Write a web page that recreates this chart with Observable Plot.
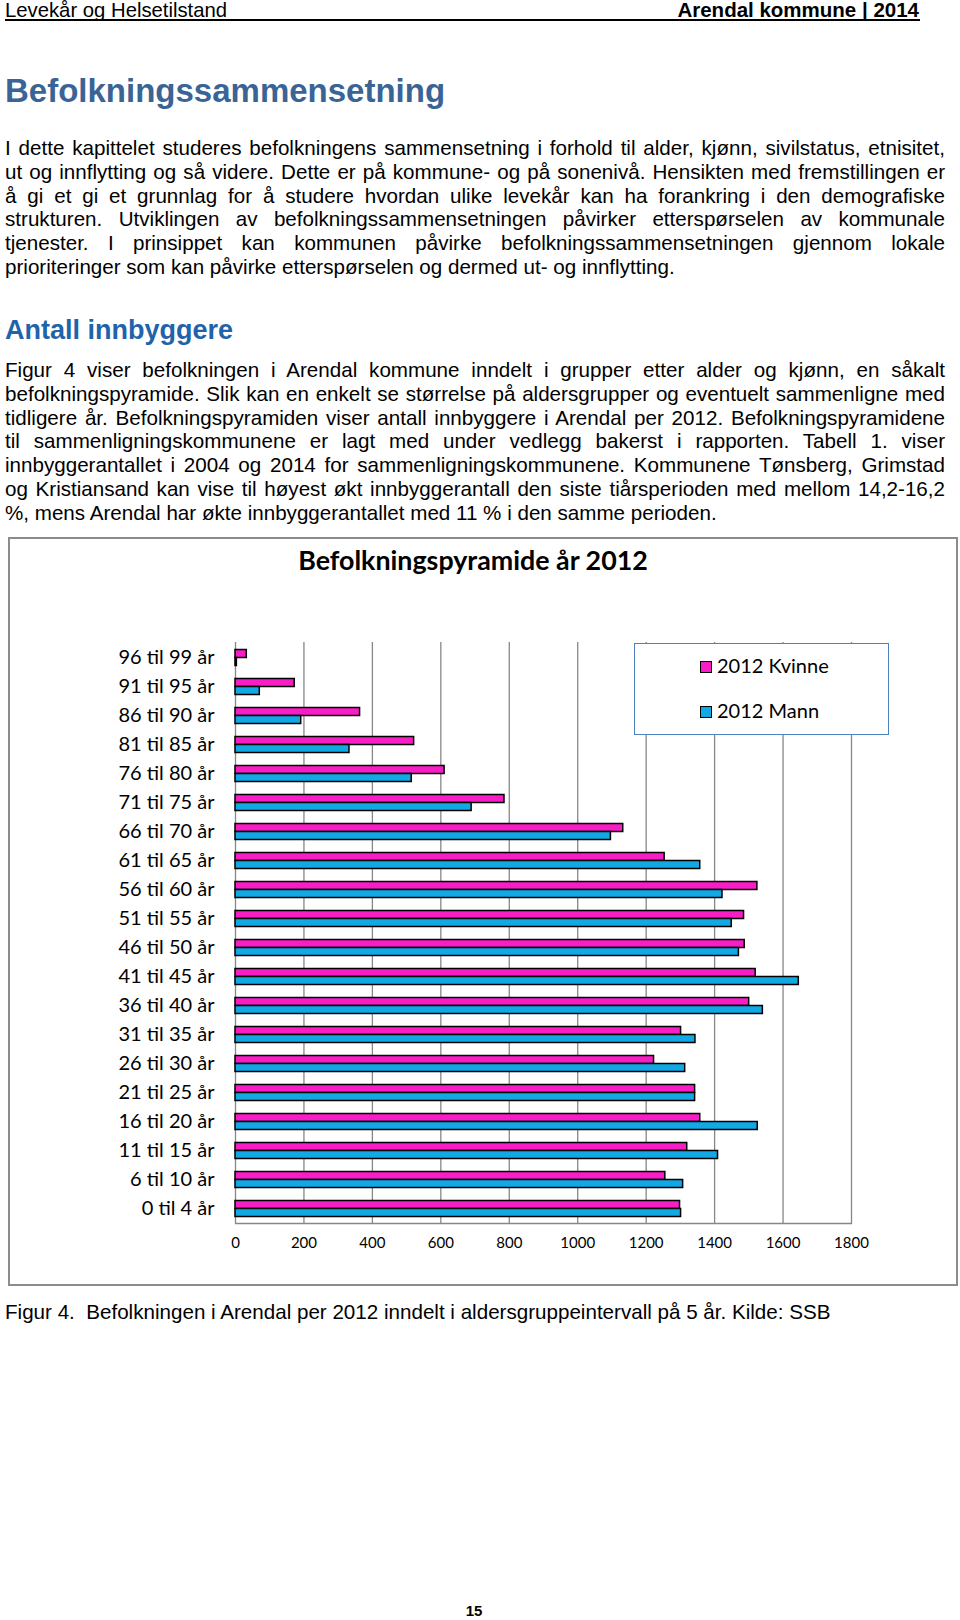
<!DOCTYPE html>
<html>
<head>
<meta charset="utf-8">
<script src="https://cdn.jsdelivr.net/npm/d3@7"></script>
<script src="https://cdn.jsdelivr.net/npm/@observablehq/plot@0.6"></script>
<style>
  html, body { margin: 0; padding: 0; }
  body { width: 960px; height: 1620px; position: relative; background: #fff; overflow: hidden;
         font-family: "Liberation Sans", Arial, Helvetica, sans-serif; color: #000; }
  .abs { position: absolute; }
  .para { left: 5px; width: 940px; font-size: 20.6px; line-height: 23.77px; }
  .para div { text-align: justify; text-align-last: justify; height: 23.77px; overflow: visible; }
  .para div.last { text-align-last: left; }
  #frame { left: 8px; top: 537px; width: 950px; height: 749px; box-sizing: border-box; border: 2px solid #8c8c8c; }
  #ctitle { left: 0px; width: 946px; top: 540px; height: 40px; line-height: 40px; text-align: center;
            font-family: Lato, "Open Sans", sans-serif; font-weight: bold; font-size: 26.8px; }
  #chart { left: 10px; top: 590px; }
  #legend { left: 634px; top: 643px; width: 255px; height: 92px; box-sizing: border-box;
            border: 1.5px solid #4f81bd; background: #fff; font-family: Lato, sans-serif; font-size: 20px; }
  .li { position: absolute; left: 65px; height: 24px; line-height: 24px; white-space: nowrap; }
  .sw { display: inline-block; width: 12px; height: 12px; box-sizing: border-box; border: 1.5px solid #000;
        vertical-align: middle; margin-right: 5px; position: relative; top: -1px; }
</style>
</head>
<body>

<div class="abs" style="left:5px;top:-2px;font-size:20.3px;line-height:24px;">Levekår og Helsetilstand</div>
<div class="abs" style="right:41px;top:-2px;font-size:20.5px;line-height:24px;font-weight:bold;">Arendal kommune | 2014</div>
<div class="abs" style="left:5px;top:19px;width:915px;height:2px;background:#000;"></div>

<div class="abs" style="left:5px;top:71px;font-size:33px;line-height:40px;font-weight:bold;color:#3a6496;">Befolkningssammensetning</div>

<div class="abs para" style="top:136px;">
  <div>I dette kapittelet studeres befolkningens sammensetning i forhold til alder, kjønn, sivilstatus, etnisitet,</div>
  <div>ut og innflytting og så videre. Dette er på kommune- og på sonenivå. Hensikten med fremstillingen er</div>
  <div>å gi et gi et grunnlag for å studere hvordan ulike levekår kan ha forankring i den demografiske</div>
  <div>strukturen. Utviklingen av befolkningssammensetningen påvirker etterspørselen av kommunale</div>
  <div>tjenester. I prinsippet kan kommunen påvirke befolkningssammensetningen gjennom lokale</div>
  <div class="last">prioriteringer som kan påvirke etterspørselen og dermed ut- og innflytting.</div>
</div>

<div class="abs" style="left:5px;top:314px;font-size:27px;line-height:32px;font-weight:bold;color:#1f63ab;">Antall innbyggere</div>

<div class="abs para" style="top:358px;">
  <div>Figur 4 viser befolkningen i Arendal kommune inndelt i grupper etter alder og kjønn, en såkalt</div>
  <div>befolkningspyramide. Slik kan en enkelt se størrelse på aldersgrupper og eventuelt sammenligne med</div>
  <div>tidligere år. Befolkningspyramiden viser antall innbyggere i Arendal per 2012. Befolkningspyramidene</div>
  <div>til sammenligningskommunene er lagt med under vedlegg bakerst i rapporten. Tabell 1. viser</div>
  <div>innbyggerantallet i 2004 og 2014 for sammenligningskommunene. Kommunene Tønsberg, Grimstad</div>
  <div>og Kristiansand kan vise til høyest økt innbyggerantall den siste tiårsperioden med mellom 14,2-16,2</div>
  <div class="last">%, mens Arendal har økte innbyggerantallet med 11 % i den samme perioden.</div>
</div>

<div id="frame" class="abs"></div>
<div id="ctitle" class="abs">Befolkningspyramide år 2012</div>
<div id="chart" class="abs"></div>
<div id="legend" class="abs"></div>

<div class="abs" style="left:5px;top:1300px;font-size:20.6px;line-height:23.77px;white-space:pre;">Figur 4.  Befolkningen i Arendal per 2012 inndelt i aldersgruppeintervall på 5 år. Kilde: SSB</div>

<div class="abs" style="left:454px;width:40px;text-align:center;top:1603px;font-size:15px;line-height:16px;font-weight:bold;">15</div>

<script>
// ---- Data ----
const ages = ["0 til 4 år", "6 til 10 år", "11 til 15 år", "16 til 20 år", "21 til 25 år",
  "26 til 30 år", "31 til 35 år", "36 til 40 år", "41 til 45 år", "46 til 50 år",
  "51 til 55 år", "56 til 60 år", "61 til 65 år", "66 til 70 år", "71 til 75 år",
  "76 til 80 år", "81 til 85 år", "86 til 90 år", "91 til 95 år", "96 til 99 år"];
const kvinne = [1299, 1256, 1320, 1358, 1343, 1223, 1302, 1501, 1520, 1488,
  1486, 1525, 1254, 1133, 786, 611, 522, 364, 173, 33];
const mann = [1302, 1308, 1410, 1526, 1343, 1314, 1344, 1541, 1646, 1471,
  1450, 1423, 1358, 1097, 690, 515, 333, 192, 71, 4];
const seriesNames = ["2012 Kvinne", "2012 Mann"];
const seriesColors = ["#f81ec6", "#12a8e4"];
const xTicks = [0, 200, 400, 600, 800, 1000, 1200, 1400, 1600, 1800];

const rows = ages.map((age, i) => ({age, kvinne: kvinne[i], mann: mann[i]}));

const chart = Plot.plot({
  width: 946,
  height: 694,
  marginLeft: 225,
  marginRight: 105,
  marginTop: 52,
  marginBottom: 61,
  style: {background: "transparent", fontFamily: "Lato, sans-serif", overflow: "visible", color: "#000"},
  x: {domain: [0, 1800], label: null},
  y: {domain: ages.slice().reverse(), padding: 0, label: null},
  marks: [
    Plot.ruleX(xTicks, {stroke: "#878787", strokeWidth: 1.3, strokeOpacity: 1}),
    Plot.frame({anchor: "bottom", stroke: "#878787", strokeWidth: 1.3}),
    Plot.barX(rows, {y: "age", x: "kvinne", fill: seriesColors[0], stroke: "#000", strokeWidth: 1.5,
      insetTop: 6.5, insetBottom: 14.5}),
    Plot.barX(rows, {y: "age", x: "mann", fill: seriesColors[1], stroke: "#000", strokeWidth: 1.5,
      insetTop: 14.5, insetBottom: 6.5}),
    Plot.axisX({ticks: xTicks, tickFormat: d => String(d), tickSize: 0, tickPadding: 14, fontSize: 15,
      label: null, fill: "#000"}),
    Plot.axisY({tickSize: 0, tickPadding: 21, fontSize: 20, label: null, fill: "#000"})
  ]
});
document.getElementById("chart").appendChild(chart);

// ---- Legend ----
const legend = document.getElementById("legend");
const legendTops = [9, 54];
seriesNames.forEach((name, i) => {
  const item = document.createElement("div");
  item.className = "li";
  item.style.top = legendTops[i] + "px";
  const sw = document.createElement("span");
  sw.className = "sw";
  sw.style.background = seriesColors[i];
  item.appendChild(sw);
  item.appendChild(document.createTextNode(name));
  legend.appendChild(item);
});
</script>
</body>
</html>
